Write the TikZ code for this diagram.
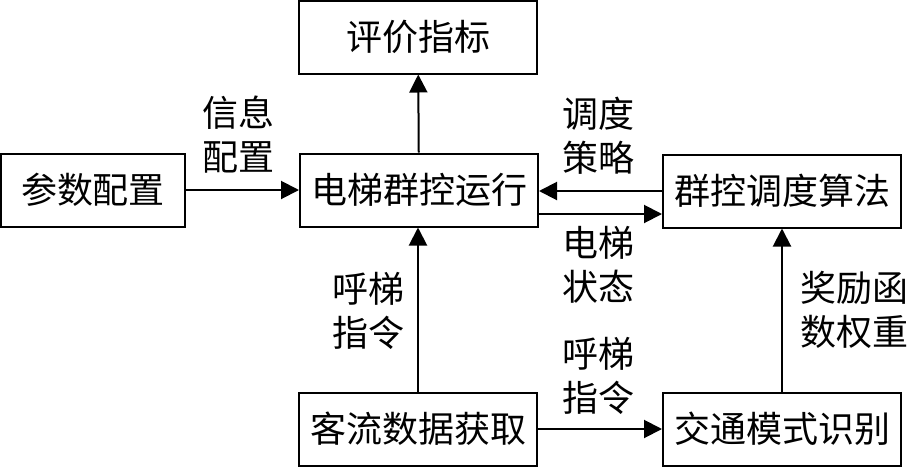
\documentclass[tikz,border=0pt]{standalone}
\usepackage{fontspec}
\newfontfamily\cjk{Noto Sans CJK SC}
\usetikzlibrary{arrows.meta}

\begin{document}
\begin{tikzpicture}[
    x=0.5pt, y=-0.5pt,
    font=\cjk\fontsize{18}{22}\selectfont,
    box/.style={draw,line width=1pt,minimum width=119pt,minimum height=36.5pt,inner sep=0pt},
    lbl/.style={align=center,inner sep=0pt},
    proc/.style={draw,line width=1pt,-{Triangle[length=9pt,width=9pt]}}]
  \useasboundingbox (0,0) rectangle (912,467);
  \node[box] (eval) at (418,37) { 评价指标 };
  \node[box,minimum width=92pt] (param) at (93,190) { 参数配置 };
  \node[box] (run) at (419,190) { 电梯群控运行 };
  \node[box] (algo) at (782,191) { 群控调度算法 };
  \node[box] (flow) at (418,429) { 客流数据获取 };
  \node[box] (mode) at (782,429) { 交通模式识别 };
  \draw[proc] (run) -- (eval);
  \draw[proc] (param) -- (run);
  \draw[proc] (algo.west) -- (algo.west -| run.east);
  \draw[proc] ([yshift=-12pt]run.east) -- ([yshift=-12pt]run.east -| algo.west);
  \draw[proc] (flow) -- (flow.north |- run.south);
  \draw[proc] (flow) -- (mode);
  \draw[proc] (mode) -- (algo);
  \node[lbl] (infolbl) at (238,135) { 信息\\配置 };
  \node[lbl] (stratlbl) at (598,136) { 调度\\策略 };
  \node[lbl] (statelbl) at (598,265) { 电梯\\状态 };
  \node[lbl] (calllbl) at (368,311) { 呼梯\\指令 };
  \node[lbl] (call2lbl) at (598,376) { 呼梯\\指令 };
  \node[lbl] (weightlbl) at (854,310) { 奖励函\\数权重 };
\end{tikzpicture}
\end{document}
